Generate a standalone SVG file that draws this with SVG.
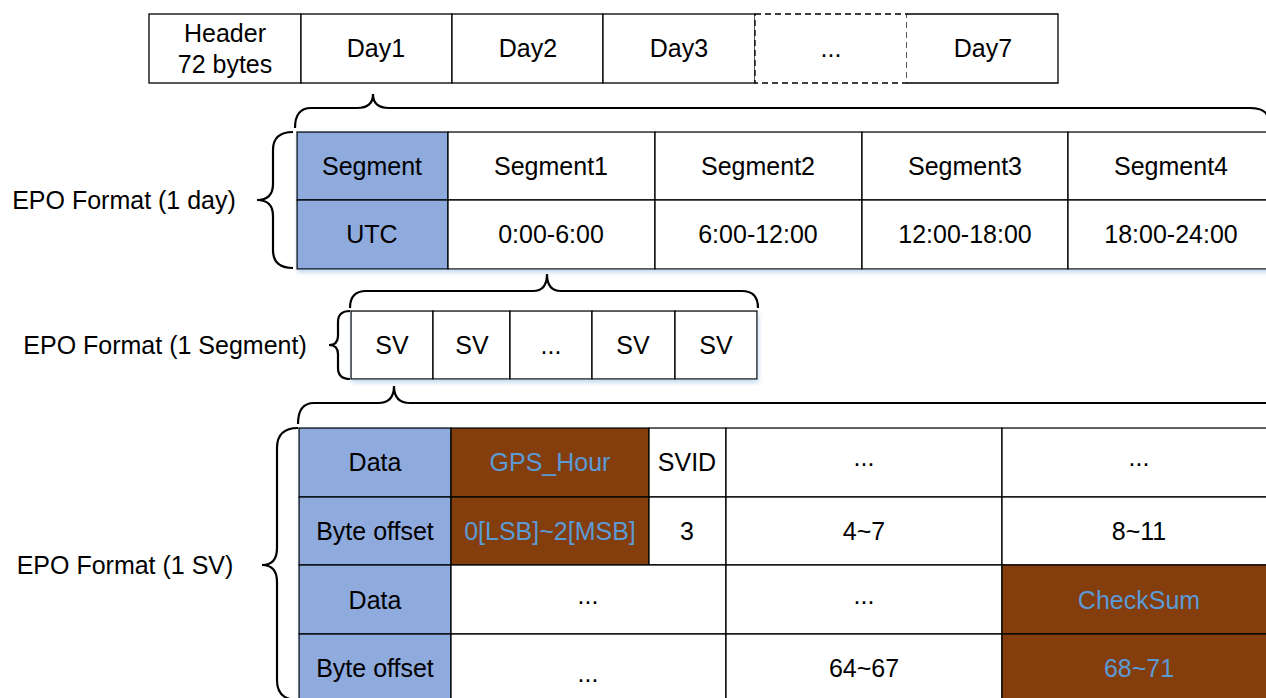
<svg xmlns="http://www.w3.org/2000/svg" width="1266" height="698" viewBox="0 0 1266 698">
<style>
text{font-family:"Liberation Sans",Arial,sans-serif;font-size:25px;fill:#000;text-anchor:middle;dominant-baseline:central}
.cell{fill:#fff;stroke:#000;stroke-width:1.3}
.hdr{fill:#8FAADC;stroke:#000;stroke-width:1.3}
.brn{fill:#843C0C;stroke:#000;stroke-width:1.3}
.ln{fill:none;stroke:#000;stroke-width:1.3}
.dash{fill:#fff;stroke:#000;stroke-width:1.3;stroke-dasharray:6 4}
.brace{fill:none;stroke:#000;stroke-width:2.2}
text.bt{fill:#5B9BD5}
</style>
<defs>
<filter id="sh" x="-5%" y="-5%" width="110%" height="120%">
<feDropShadow dx="1" dy="3" stdDeviation="2" flood-color="#9DC3E6" flood-opacity="0.6"/>
</filter>
</defs>

<g id="file-row">
<rect class="cell" x="149" y="14" width="152" height="69"/>
<text x="225" y="33">Header</text>
<text x="225" y="64">72 bytes</text>
<rect class="cell" x="301" y="14" width="151" height="69"/>
<text x="376" y="48">Day1</text>
<rect class="cell" x="452" y="14" width="151" height="69"/>
<text x="528" y="48">Day2</text>
<rect class="cell" x="603" y="14" width="152" height="69"/>
<text x="679" y="48">Day3</text>
<rect class="dash" x="755" y="14" width="152" height="69"/>
<text x="831" y="48">...</text>
<rect x="907" y="14" width="151" height="69" fill="#fff"/>
<path class="ln" d="M907,14 H1058 V83 H907"/>
<text x="983" y="48">Day7</text>
</g>

<g id="connectors">
<path class="brace" d="M295,128 Q295,108 311,108 H357 Q373,108 373,94 Q373,108 389,108 H1250 Q1266,108 1268,118"/>
<path class="brace" d="M350,308 Q350,291 366,291 H533 Q547,291 547,274 Q547,291 561,291 H742 Q758,291 758,308"/>
<path class="brace" d="M298,424 Q298,403 314,403 H378 Q394,403 394,386 Q394,403 410,403 H1268"/>
<path class="brace" d="M293,132 Q273,132 273,150 V184 Q273,200 257,200 Q273,200 273,216 V250 Q273,268 293,268"/>
<path class="brace" d="M350,311 Q338,311 338,322 V336 Q338,345 329,345 Q338,345 338,354 V368 Q338,379 350,379"/>
<path class="brace" d="M298,428 Q277,428 277,448 V548 Q277,565 262,565 Q277,565 277,582 V680 Q277,700 298,700"/>
</g>

<g id="label-day"><text x="124" y="200">EPO Format (1 day)</text></g>
<g id="label-segment"><text x="165" y="345">EPO Format (1 Segment)</text></g>
<g id="label-sv"><text x="125" y="565">EPO Format (1 SV)</text></g>

<g id="day-table" filter="url(#sh)">
<rect class="hdr" x="297" y="132" width="151" height="68"/>
<rect class="hdr" x="297" y="200" width="151" height="69"/>
<rect class="cell" x="448" y="132" width="207" height="68"/>
<rect class="cell" x="655" y="132" width="207" height="68"/>
<rect class="cell" x="862" y="132" width="206" height="68"/>
<rect class="cell" x="1068" y="132" width="210" height="68"/>
<rect class="cell" x="448" y="200" width="207" height="69"/>
<rect class="cell" x="655" y="200" width="207" height="69"/>
<rect class="cell" x="862" y="200" width="206" height="69"/>
<rect class="cell" x="1068" y="200" width="210" height="69"/>
</g>
<g id="day-table-text">
<text x="372" y="166">Segment</text>
<text x="551" y="166">Segment1</text>
<text x="758" y="166">Segment2</text>
<text x="965" y="166">Segment3</text>
<text x="1171" y="166">Segment4</text>
<text x="372" y="234">UTC</text>
<text x="551" y="234">0:00-6:00</text>
<text x="758" y="234">6:00-12:00</text>
<text x="965" y="234">12:00-18:00</text>
<text x="1171" y="234">18:00-24:00</text>
</g>

<g id="segment-row" filter="url(#sh)">
<rect class="cell" x="351" y="311" width="82" height="68"/>
<rect class="cell" x="433" y="311" width="77" height="68"/>
<rect class="cell" x="510" y="311" width="82" height="68"/>
<rect class="cell" x="592" y="311" width="83" height="68"/>
<rect class="cell" x="675" y="311" width="82" height="68"/>
</g>
<g id="segment-row-text">
<text x="392" y="345">SV</text>
<text x="472" y="345">SV</text>
<text x="551" y="345">...</text>
<text x="633" y="345">SV</text>
<text x="716" y="345">SV</text>
</g>

<g id="sv-table" filter="url(#sh)">
<rect class="hdr" x="299" y="428" width="152" height="69"/>
<rect class="hdr" x="299" y="497" width="152" height="68"/>
<rect class="hdr" x="299" y="565" width="152" height="69"/>
<rect class="hdr" x="299" y="634" width="152" height="69"/>
<rect class="brn" x="451" y="428" width="198" height="69"/>
<rect class="brn" x="451" y="497" width="198" height="68"/>
<rect class="cell" x="649" y="428" width="77" height="69"/>
<rect class="cell" x="649" y="497" width="77" height="68"/>
<rect class="cell" x="726" y="428" width="276" height="69"/>
<rect class="cell" x="726" y="497" width="276" height="68"/>
<rect class="cell" x="1002" y="428" width="276" height="69"/>
<rect class="cell" x="1002" y="497" width="276" height="68"/>
<rect class="cell" x="451" y="565" width="275" height="69"/>
<rect class="cell" x="451" y="634" width="275" height="69"/>
<rect class="cell" x="726" y="565" width="276" height="69"/>
<rect class="cell" x="726" y="634" width="276" height="69"/>
<rect class="brn" x="1002" y="565" width="276" height="69"/>
<rect class="brn" x="1002" y="634" width="276" height="69"/>
</g>
<g id="sv-table-text">
<text x="375" y="462">Data</text>
<text x="375" y="531">Byte offset</text>
<text x="375" y="600">Data</text>
<text x="375" y="668">Byte offset</text>
<text class="bt" x="550" y="462">GPS_Hour</text>
<text class="bt" x="550" y="531">0[LSB]~2[MSB]</text>
<text x="687" y="462">SVID</text>
<text x="687" y="531">3</text>
<text x="864" y="457">...</text>
<text x="864" y="531">4~7</text>
<text x="1139" y="457">...</text>
<text x="1139" y="531">8~11</text>
<text x="588" y="595">...</text>
<text x="588" y="673">...</text>
<text x="864" y="595">...</text>
<text x="864" y="668">64~67</text>
<text class="bt" x="1139" y="600">CheckSum</text>
<text class="bt" x="1139" y="668">68~71</text>
</g>
</svg>
